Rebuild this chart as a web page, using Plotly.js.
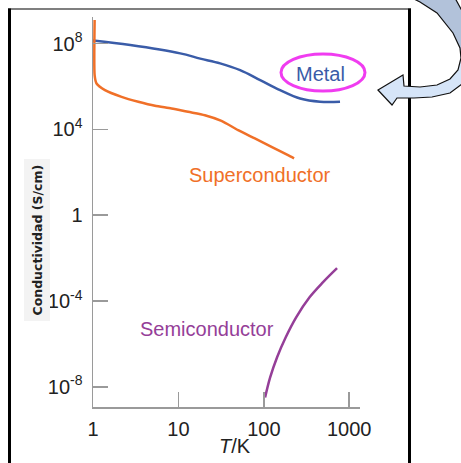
<!DOCTYPE html>
<html>
<head>
<meta charset="utf-8">
<script src="https://cdn.plot.ly/plotly-3.0.1.min.js"></script>
<style>html,body{margin:0;padding:0;background:#fff;}#chart{width:461px;height:463px;}</style>
</head>
<body>
<div id="chart"></div>
<script>
// Data (temperature in K, conductivity in S/cm)
const T_metal = [1, 2.73, 10.5, 18.0, 30.8, 52.8, 90.6, 155, 266, 455, 780];
const S_metal = [1.38e8, 8.5e7, 3.5e7, 2.0e7, 1.2e7, 5.8e6, 2.0e6, 6.8e5, 2.75e5, 1.95e5, 1.95e5];

const T_super = [1.045, 1.045, 1.10, 1.38, 2.16, 3.39, 5.31, 8.30, 13.0, 20.4, 31.9, 50.0, 78.5, 123, 192, 226];
const S_super = [1.26e9, 3.4e6, 1.38e6, 6.8e5, 3.3e5, 1.95e5, 1.26e5, 9.5e4, 6.6e4, 4.6e4, 2.5e4, 9.3e3, 3.8e3, 1.55e3, 630, 447];

const T_semi = [103.5, 118.6, 143, 180, 239, 343, 494, 720];
const S_semi = [3.2e-9, 2.75e-8, 2.4e-7, 2.0e-6, 1.74e-5, 1.5e-4, 7.6e-4, 3.4e-3];

const xTickVals = [1, 10, 100, 1000];
const xTickText = ['1', '10', '100', '1000'];
const yTickVals = [1e-8, 1e-4, 1, 1e4, 1e8];
const yTickText = ['10<sup>-8</sup>', '10<sup>-4</sup>', '1', '10<sup>4</sup>', '10<sup>8</sup>'];

const labels = ['Metal', 'Superconductor', 'Semiconductor'];
const colors = ['#3a5ca8', '#f07028', '#953e98'];

// layout helpers (pixel -> paper)
const L = 93, R = 360, TOP = 17, BOT = 407;
const W = 461, H = 463;
function px(x) { return (x - L) / (R - L); }
function py(y) { return (BOT - y) / (BOT - TOP); }
function path(pts) {
  return 'M ' + pts.map(p => px(p[0]).toFixed(4) + ' ' + py(p[1]).toFixed(4)).join(' L ') + ' Z';
}

const font = "'Liberation Sans', Arial, sans-serif";

const traces = [
  {x: T_metal, y: S_metal, mode: 'lines', line: {color: colors[0], width: 2.5, shape: 'spline', smoothing: 1}, hoverinfo: 'skip'},
  {x: T_super, y: S_super, mode: 'lines', line: {color: colors[1], width: 2.5, shape: 'spline', smoothing: 0.6}, hoverinfo: 'skip'},
  {x: T_semi, y: S_semi, mode: 'lines', line: {color: colors[2], width: 2.5, shape: 'spline', smoothing: 1}, hoverinfo: 'skip'}
];

const arrowOuter = [
  [378, 90], [403, 75], [404, 86], [420, 87], [437, 85], [450, 79], [458, 70], [461, 58],
  [460, 48], [453, 33], [437, 13], [420, 2], [412, -2], [455, -2], [466, 18], [472, 45],
  [470, 70], [462, 84], [450, 93], [432, 97], [414, 98], [397, 98], [392, 105]
];
const arrowTop = [
  [461, 58], [460, 48], [453, 33], [437, 13], [420, 2], [412, -2], [455, -2], [466, 18], [472, 45], [470, 62], [461, 62]
];

const layout = {
  width: W, height: H,
  margin: {l: L, r: W - R, t: TOP, b: H - BOT, pad: 0},
  paper_bgcolor: '#ffffff', plot_bgcolor: 'rgba(0,0,0,0)',
  showlegend: false,
  font: {family: font, color: '#222'},
  xaxis: {
    type: 'log', range: [0, 3.126],
    showgrid: false, zeroline: false,
    showline: true, linecolor: '#9a9a9a', linewidth: 1.5,
    ticks: 'inside', ticklen: 15, tickwidth: 1.5, tickcolor: '#9a9a9a',
    tickvals: xTickVals, ticktext: xTickText,
    tickfont: {family: font, size: 20, color: '#222'},
    ticklabelstandoff: 3
  },
  yaxis: {
    type: 'log', range: [-8.94, 9.24],
    showgrid: false, zeroline: false,
    showline: true, linecolor: '#9a9a9a', linewidth: 1.5,
    ticks: 'inside', ticklen: 15, tickwidth: 1.5, tickcolor: '#9a9a9a',
    tickvals: yTickVals, ticktext: yTickText,
    tickfont: {family: font, size: 20, color: '#222'},
    ticklabelstandoff: 5
  },
  annotations: [
    {xref: 'paper', yref: 'paper', x: px(320.5), y: py(74), text: labels[0], showarrow: false,
     xanchor: 'center', yanchor: 'middle', font: {family: font, size: 20, color: colors[0]}},
    {xref: 'paper', yref: 'paper', x: px(259.5), y: py(175), text: labels[1], showarrow: false,
     xanchor: 'center', yanchor: 'middle', font: {family: font, size: 20, color: colors[1]}},
    {xref: 'paper', yref: 'paper', x: px(207), y: py(329), text: labels[2], showarrow: false,
     xanchor: 'center', yanchor: 'middle', font: {family: font, size: 20, color: colors[2]}},
    {xref: 'paper', yref: 'paper', x: px(235), y: py(446), text: '<i>T</i>/K', showarrow: false,
     xanchor: 'center', yanchor: 'middle', font: {family: font, size: 20, color: '#222'}},
    {xref: 'paper', yref: 'paper', x: px(36.5), y: py(240), text: 'Conductividad (S/cm)', showarrow: false,
     textangle: -90, xanchor: 'center', yanchor: 'middle',
     bgcolor: '#f3f3f3', borderpad: 5,
     font: {family: "'DejaVu Sans', sans-serif", size: 12.5, color: '#222', weight: 'bold'}}
  ],
  shapes: [
    // frame
    {type: 'line', xref: 'paper', yref: 'paper', x0: px(8), x1: px(411), y0: py(9), y1: py(9), line: {color: '#555', width: 1.5}},
    {type: 'line', xref: 'paper', yref: 'paper', x0: px(9.5), x1: px(9.5), y0: py(8.5), y1: py(470), line: {color: '#000', width: 3}},
    {type: 'line', xref: 'paper', yref: 'paper', x0: px(409.5), x1: px(409.5), y0: py(8.5), y1: py(470), line: {color: '#000', width: 3}},
    // ellipse around Metal
    {type: 'circle', xref: 'paper', yref: 'paper', x0: px(281), x1: px(365), y0: py(54), y1: py(91), line: {color: '#f03cf0', width: 3}},
    // curved arrow
    {type: 'path', xref: 'paper', yref: 'paper', path: path(arrowOuter), fillcolor: '#d6e5f8', line: {width: 0}},
    {type: 'path', xref: 'paper', yref: 'paper', path: path(arrowTop), fillcolor: '#b2c2da', line: {width: 0}},
    {type: 'path', xref: 'paper', yref: 'paper', path: path(arrowOuter), fillcolor: 'rgba(0,0,0,0)', line: {color: '#111', width: 1.2}}
  ]
};

Plotly.newPlot('chart', traces, layout, {staticPlot: true, displayModeBar: false});
</script>
</body>
</html>
